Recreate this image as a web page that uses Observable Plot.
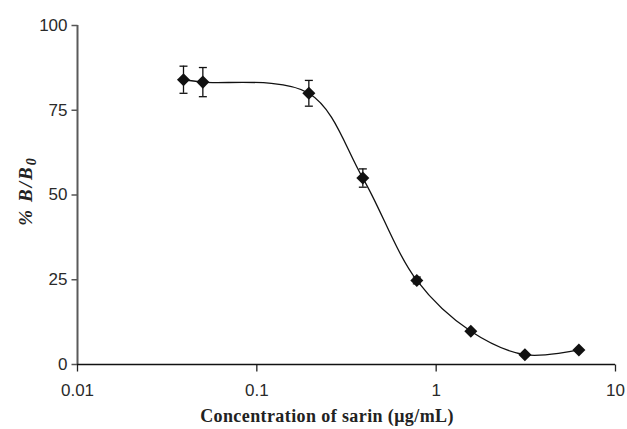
<!DOCTYPE html>
<html><head><meta charset="utf-8">
<script src="https://cdn.jsdelivr.net/npm/d3@7"></script>
<script src="https://cdn.jsdelivr.net/npm/@observablehq/plot@0.6"></script>
<style>body{margin:0;background:#fff}</style>
</head><body><div id="chart"></div>
<script>
// Data
const concentrations = [0.039, 0.05, 0.195, 0.39, 0.78, 1.56, 3.125, 6.25];
const bOverB0 = [84, 83.3, 80, 55, 24.8, 9.8, 2.9, 4.3];
const errors = [4, 4.3, 3.8, 2.7, 1, 0, 0, 0];
const xTicks = [0.01, 0.1, 1, 10];
const xTickLabels = ["0.01", "0.1", "1", "10"];
const yTicks = [0, 25, 50, 75, 100];
const yTickLabels = ["0", "25", "50", "75", "100"];

const data = concentrations.map((c, i) => ({x: c, y: bOverB0[i], e: errors[i]}));
const bars = data.filter(d => d.e > 0);
const xt = xTicks.map((v, i) => ({v, label: xTickLabels[i]}));
const yt = yTicks.map((v, i) => ({v, label: yTickLabels[i]}));

const hline = (w) => ({draw(ctx){ctx.moveTo(-w, 0); ctx.lineTo(w, 0);}});
const vline = (h) => ({draw(ctx){ctx.moveTo(0, -h); ctx.lineTo(0, h);}});

const chart = Plot.plot({
  width: 627, height: 429,
  marginLeft: 77, marginRight: 12, marginTop: 25, marginBottom: 65,
  x: {type: "log", domain: [0.01, 10], axis: null},
  y: {domain: [0, 100], axis: null},
  style: {fontFamily: "'Liberation Sans', Arial, sans-serif", background: "#fff"},
  marks: [
    // axes
    Plot.dot(yt, {x: () => 0.01, y: "v", symbol: hline(3), dx: -3, stroke: "#555", strokeWidth: 1.5, fill: "none"}),
    Plot.dot(xt, {x: "v", y: () => 0, symbol: vline(3.5), dy: 3.5, stroke: "#222", strokeWidth: 1.3, fill: "none"}),
    Plot.ruleX([0.01], {y1: 0, y2: 100, stroke: "#5a5a5a", strokeWidth: 2}),
    Plot.ruleY([0], {x1: 0.01, x2: 10, stroke: "#111", strokeWidth: 1.5}),
    Plot.text(yt, {x: () => 0.01, y: "v", text: "label", dx: -10, textAnchor: "end", fontSize: 17, fill: "#2a2a2a"}),
    Plot.text(xt, {x: "v", y: () => 0, text: "label", dy: 19, lineAnchor: "top", textAnchor: "middle", fontSize: 17, fill: "#2a2a2a"}),
    // fitted smooth curve through points
    Plot.line(data, {x: "x", y: "y", curve: "catmull-rom", stroke: "#111", strokeWidth: 1.3}),
    // error bars
    Plot.ruleX(bars, {x: "x", y1: d => d.y - d.e, y2: d => d.y + d.e, stroke: "#111", strokeWidth: 1.3}),
    Plot.dot(bars, {x: "x", y: d => d.y + d.e, symbol: hline(4), stroke: "#111", strokeWidth: 1.3, fill: "none"}),
    Plot.dot(bars, {x: "x", y: d => d.y - d.e, symbol: hline(4), stroke: "#111", strokeWidth: 1.3, fill: "none"}),
    // markers
    Plot.dot(data, {x: "x", y: "y", symbol: "square", rotate: 45, r: 5.2, fill: "#111", stroke: "none"})
  ]
});

const svg = d3.select(chart);
svg.append("text")
  .attr("x", 327).attr("y", 422)
  .attr("text-anchor", "middle")
  .attr("font-family", "'Liberation Serif', 'Times New Roman', serif")
  .attr("font-weight", "bold").attr("font-size", 18).attr("letter-spacing", 0.4).attr("fill", "#222")
  .text("Concentration of sarin (μg/mL)");

const yl = svg.append("text")
  .attr("transform", "translate(32,192) rotate(-90)")
  .attr("text-anchor", "middle")
  .attr("font-family", "'Liberation Serif', 'Times New Roman', serif")
  .attr("font-weight", "bold").attr("font-style", "italic").attr("font-size", 19).attr("fill", "#222");
yl.append("tspan").text("%");
yl.append("tspan").attr("dx", 8).attr("letter-spacing", 2).text("B/B");
yl.append("tspan").attr("dy", 4).attr("font-size", 14).text("0");

document.getElementById("chart").append(chart);
</script>
</body></html>
